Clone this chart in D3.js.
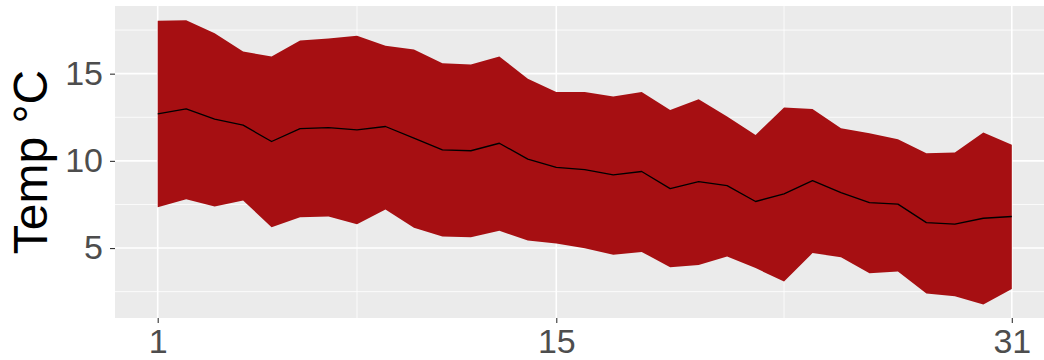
<!DOCTYPE html>
<html>
<head>
<meta charset="utf-8">
<script src="https://cdn.jsdelivr.net/npm/d3@7"></script>
<style>
  html, body { margin: 0; padding: 0; background: #ffffff; }
  svg { display: block; }
</style>
</head>
<body>
<div id="chart"></div>
<script>
// Daily temperature: mean with min–max band, days 1..31
const days = d3.range(1, 32);
const upperTemp = [18.03, 18.07, 17.32, 16.27, 15.98, 16.90, 17.01, 17.17, 16.60, 16.38,
                   15.60, 15.52, 15.98, 14.71, 13.95, 13.95, 13.69, 13.95, 12.92, 13.54,
                   12.54, 11.49, 13.06, 12.98, 11.87, 11.59, 11.24, 10.44, 10.48, 11.62, 10.92];
const meanTemp  = [12.69, 12.98, 12.39, 12.05, 11.11, 11.85, 11.91, 11.78, 11.97, 11.30,
                   10.63, 10.58, 11.01, 10.10, 9.63, 9.50, 9.20, 9.39, 8.41, 8.81,
                   8.58, 7.67, 8.11, 8.87, 8.18, 7.61, 7.52, 6.46, 6.37, 6.71, 6.81];
const lowerTemp = [7.34, 7.80, 7.38, 7.73, 6.20, 6.77, 6.81, 6.37, 7.21, 6.17,
                   5.66, 5.62, 5.99, 5.43, 5.26, 4.99, 4.61, 4.78, 3.90, 4.03,
                   4.51, 3.85, 3.08, 4.71, 4.48, 3.56, 3.65, 2.39, 2.24, 1.76, 2.65];
const xTicks = [1, 15, 31];
const xMinor = [8, 23];
const yTicks = [5, 10, 15];
const yMinor = [2.5, 7.5, 12.5, 17.5];
const yTitle = "Temp °C";

const W = 1044, H = 360;
const panel = { left: 115, top: 6, bottom: 318 };

const x = d3.scaleLinear().domain([-0.5, 32.5]).range([panel.left, panel.left + 33 * 28.47]);
const y = d3.scaleLinear().domain([0.99, 18.88]).range([panel.bottom, panel.top]);

const svg = d3.select("#chart").append("svg")
  .attr("width", W).attr("height", H);

const g = svg.append("g");

// panel background
g.append("rect")
  .attr("x", x.range()[0]).attr("y", panel.top)
  .attr("width", x.range()[1] - x.range()[0])
  .attr("height", panel.bottom - panel.top)
  .attr("fill", "#ebebeb");

// grid lines
const grid = g.append("g");
grid.selectAll(".ymin").data(yMinor).join("line")
  .attr("x1", x.range()[0]).attr("x2", x.range()[1])
  .attr("y1", d => y(d)).attr("y2", d => y(d))
  .attr("stroke", "#ffffff").attr("stroke-width", 0.8);
grid.selectAll(".xmin").data(xMinor).join("line")
  .attr("x1", d => x(d)).attr("x2", d => x(d))
  .attr("y1", panel.top).attr("y2", panel.bottom)
  .attr("stroke", "#ffffff").attr("stroke-width", 0.8);
grid.selectAll(".ymaj").data(yTicks).join("line")
  .attr("x1", x.range()[0]).attr("x2", x.range()[1])
  .attr("y1", d => y(d)).attr("y2", d => y(d))
  .attr("stroke", "#ffffff").attr("stroke-width", 1.6);
grid.selectAll(".xmaj").data(xTicks).join("line")
  .attr("x1", d => x(d)).attr("x2", d => x(d))
  .attr("y1", panel.top).attr("y2", panel.bottom)
  .attr("stroke", "#ffffff").attr("stroke-width", 1.6);

// min–max ribbon
const band = d3.area()
  .x((d, i) => x(days[i]))
  .y0((d, i) => y(lowerTemp[i]))
  .y1((d, i) => y(upperTemp[i]));
g.append("path")
  .datum(days)
  .attr("d", band)
  .attr("fill", "#a60f12");

// mean line
const line = d3.line()
  .x((d, i) => x(days[i]))
  .y((d, i) => y(meanTemp[i]));
g.append("path")
  .datum(days)
  .attr("d", line)
  .attr("fill", "none")
  .attr("stroke", "#000000")
  .attr("stroke-width", 1.3)
  .attr("stroke-linejoin", "round");

// axes
const font = "'Liberation Sans', Arial, Helvetica, sans-serif";

const xAxis = d3.axisBottom(x).tickValues(xTicks).tickSize(5).tickPadding(6).tickFormat(d3.format("d"));
const xg = svg.append("g").attr("transform", `translate(0,${panel.bottom})`).call(xAxis);
xg.select(".domain").remove();
xg.selectAll(".tick line").attr("stroke", "#333333").attr("stroke-width", 1.1);
xg.selectAll(".tick text")
  .attr("fill", "#4d4d4d")
  .style("font-family", font)
  .style("font-size", "34px");

const yAxis = d3.axisLeft(y).tickValues(yTicks).tickSize(5).tickPadding(7).tickFormat(d3.format("d"));
const yg = svg.append("g").attr("transform", `translate(${panel.left},0)`).call(yAxis);
yg.select(".domain").remove();
yg.selectAll(".tick line").attr("stroke", "#333333").attr("stroke-width", 1.1);
yg.selectAll(".tick text")
  .attr("fill", "#4d4d4d")
  .style("font-family", font)
  .style("font-size", "34px");

// y title
svg.append("text")
  .attr("transform", `translate(47,${(panel.top + panel.bottom) / 2}) rotate(-90)`)
  .attr("text-anchor", "middle")
  .style("font-family", font)
  .style("font-size", "48px")
  .attr("fill", "#000000")
  .text(yTitle);
</script>
</body>
</html>
